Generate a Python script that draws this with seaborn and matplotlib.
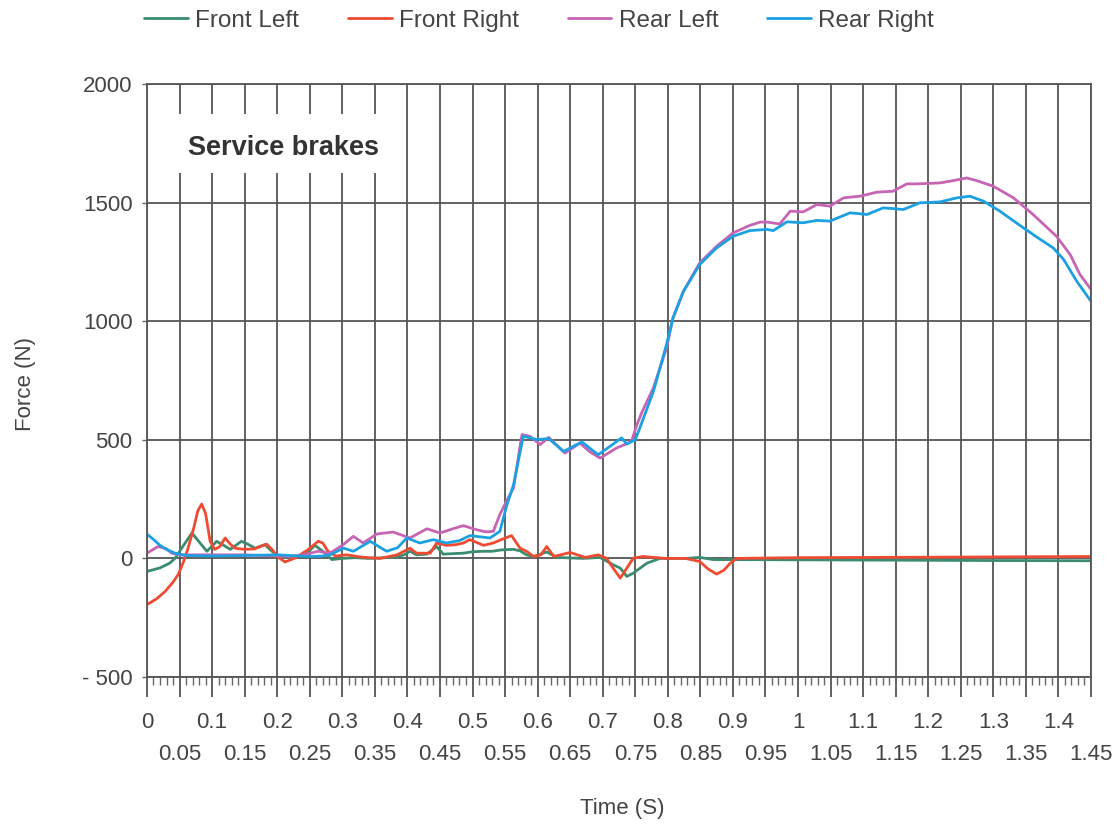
import numpy as np
import pandas as pd
import matplotlib
matplotlib.use("Agg")
import matplotlib.pyplot as plt
from matplotlib.patches import Rectangle
import seaborn as sns

# --- CONFIGURATION ---
OUTPUT_FILE = "out.png"

SERIES_NAMES = ["Front Left", "Front Right", "Rear Left", "Rear Right"]
COLORS = ["#3b8c6e", "#ef4b32", "#c864b4", "#1ba1e2"]

# Front Left
fl_t = [0.0, 0.02, 0.035, 0.043, 0.055, 0.069, 0.08, 0.092, 0.107, 0.118, 0.128, 0.145,
        0.155, 0.166, 0.181, 0.19, 0.2, 0.215, 0.23, 0.245, 0.258, 0.27, 0.284, 0.3,
        0.32, 0.34, 0.36, 0.38, 0.395, 0.404, 0.414, 0.43, 0.445, 0.455, 0.47, 0.486,
        0.5, 0.517, 0.53, 0.545, 0.563, 0.573, 0.583, 0.594, 0.614, 0.63, 0.65, 0.67,
        0.696, 0.716, 0.727, 0.737, 0.747, 0.768, 0.788, 0.81, 0.829, 0.849, 0.87, 0.9,
        1.0, 1.1, 1.2, 1.3, 1.45]
fl_f = [-55, -40, -20, 0, 50, 107, 70, 30, 72, 55, 38, 72,
        60, 43, 58, 35, 10, 5, 5, 20, 55, 30, -5, 0,
        3, 0, 2, 5, 15, 30, 15, 18, 50, 18, 20, 22,
        28, 30, 30, 36, 38, 32, 15, 8, 27, 4, 2, 0,
        4, -27, -41, -76, -62, -20, 0, 0, 0, 4, -5, -5,
        -6, -7, -8, -9, -10]

# Front Right
fr_t = [0.0, 0.015, 0.028, 0.04, 0.048, 0.056, 0.063, 0.072, 0.078, 0.084, 0.09, 0.097,
        0.104, 0.112, 0.12, 0.128, 0.135, 0.15, 0.165, 0.184, 0.193, 0.2, 0.212, 0.227,
        0.238, 0.248, 0.263, 0.27, 0.278, 0.29, 0.307, 0.33, 0.358, 0.384, 0.404, 0.414,
        0.435, 0.445, 0.46, 0.475, 0.486, 0.496, 0.517, 0.532, 0.545, 0.56, 0.573, 0.583,
        0.594, 0.605, 0.614, 0.625, 0.65, 0.673, 0.693, 0.706, 0.716, 0.727, 0.737, 0.747,
        0.762, 0.796, 0.827, 0.849, 0.862, 0.875, 0.886, 0.896, 0.906, 1.0, 1.2, 1.45]
fr_f = [-195, -170, -139, -100, -68, -15, 42, 130, 200, 229, 190, 72,
        38, 50, 86, 60, 43, 38, 40, 60, 35, 8, -15, 1,
        20, 38, 72, 65, 30, 10, 15, 5, 0, 15, 43, 22,
        22, 65, 55, 58, 65, 79, 55, 65, 80, 96, 43, 30,
        8, 15, 50, 8, 25, 4, 15, 0, -41, -83, -41, 1,
        8, 0, 0, -13, -45, -66, -50, -20, 0, 3, 5, 8]

# Rear Left
rl_t = [0.0, 0.017, 0.03, 0.038, 0.05, 0.1, 0.15, 0.2, 0.22, 0.24, 0.263, 0.281,
        0.3, 0.317, 0.332, 0.353, 0.378, 0.404, 0.43, 0.45, 0.47, 0.486, 0.506, 0.52,
        0.532, 0.542, 0.552, 0.563, 0.57, 0.576, 0.588, 0.604, 0.617, 0.642, 0.665, 0.68,
        0.696, 0.721, 0.739, 0.745, 0.752, 0.76, 0.778, 0.798, 0.808, 0.824, 0.849, 0.875,
        0.9, 0.926, 0.942, 0.952, 0.972, 0.988, 1.008, 1.029, 1.049, 1.07, 1.095, 1.121,
        1.146, 1.167, 1.182, 1.218, 1.239, 1.259, 1.274, 1.3, 1.331, 1.361, 1.397, 1.418,
        1.433, 1.45]
rl_f = [22, 50, 40, 22, 15, 15, 15, 10, 8, 15, 30, 22,
        55, 93, 65, 103, 111, 86, 125, 107, 125, 138, 121, 112,
        114, 185, 240, 297, 420, 522, 515, 480, 510, 444, 486, 450,
        423, 465, 486, 500, 560, 615, 720, 887, 1014, 1126, 1246, 1316,
        1372, 1404, 1418, 1418, 1410, 1464, 1461, 1492, 1485, 1520, 1527, 1544,
        1548, 1579, 1579, 1583, 1593, 1604, 1593, 1569, 1520, 1450, 1358, 1281,
        1197, 1134]

# Rear Right
rr_t = [0.0, 0.01, 0.02, 0.03, 0.043, 0.06, 0.1, 0.15, 0.2, 0.25, 0.27, 0.281,
        0.302, 0.317, 0.343, 0.368, 0.385, 0.399, 0.419, 0.44, 0.46, 0.48, 0.496, 0.527,
        0.542, 0.553, 0.563, 0.578, 0.599, 0.617, 0.64, 0.668, 0.693, 0.71, 0.729, 0.737,
        0.75, 0.757, 0.778, 0.798, 0.808, 0.824, 0.849, 0.875, 0.9, 0.926, 0.952, 0.962,
        0.983, 1.008, 1.029, 1.049, 1.08, 1.106, 1.131, 1.162, 1.187, 1.218, 1.244, 1.264,
        1.285, 1.31, 1.346, 1.372, 1.392, 1.408, 1.428, 1.45]
rr_f = [102, 80, 55, 38, 22, 12, 10, 12, 15, 8, 10, 15,
        43, 30, 72, 30, 45, 86, 65, 79, 65, 75, 96, 86,
        114, 227, 310, 515, 501, 505, 451, 491, 437, 470, 508, 482,
        500, 550, 705, 902, 1014, 1126, 1239, 1309, 1358, 1382, 1387, 1382,
        1419, 1415, 1425, 1422, 1457, 1450, 1478, 1471, 1499, 1503, 1520, 1527,
        1506, 1464, 1394, 1345, 1309, 1260, 1169, 1084]

Y_TICKS = [-500, 0, 500, 1000, 1500, 2000]
Y_TICK_LABELS = ["- 500", "0", "500", "1000", "1500", "2000"]


def generate_graph():
    frames = []
    for name, t, f in zip(SERIES_NAMES, [fl_t, fr_t, rl_t, rr_t], [fl_f, fr_f, rl_f, rr_f]):
        frames.append(pd.DataFrame({"Time": t, "Force": f, "Series": name}))
    df = pd.concat(frames, ignore_index=True)

    sns.set_style("white")
    plt.rcParams['font.family'] = ['Liberation Sans', 'DejaVu Sans']

    fig = plt.figure(figsize=(11.16, 8.27), dpi=100)
    ax = fig.add_axes([0.1317, 0.1814, 0.8459, 0.717])

    sns.lineplot(data=df, x="Time", y="Force", hue="Series", hue_order=SERIES_NAMES,
                 palette=COLORS, estimator=None, sort=True, linewidth=2.0, ax=ax)

    handles, labels = ax.get_legend_handles_labels()
    ax.get_legend().remove()
    fig.legend(handles, labels, loc="center", bbox_to_anchor=(0.483, 0.975), ncol=4,
               frameon=False, fontsize=17.5, handlelength=1.8, handletextpad=0.3,
               columnspacing=2.0, labelcolor="#444444")

    ax.set_xlim(0, 1.45)
    ax.set_ylim(-500, 2000)

    # Major ticks every 0.05; labels on two rows (second row via a secondary axis)
    major = np.round(np.arange(30) * 0.05, 2)
    even = major[0::2]
    odd = major[1::2]
    ax.set_xticks(major)
    ax.set_xticklabels([f"{v:g}" if i % 2 == 0 else "" for i, v in enumerate(major)])
    ax.set_xticks(np.round(np.arange(146) * 0.01, 2), minor=True)

    sec = ax.secondary_xaxis("bottom")
    sec.set_xticks(odd)
    sec.set_xticklabels([f"{v:g}" for v in odd])
    sec.tick_params(axis="x", length=0, pad=48, labelsize=16, labelcolor="#444444")
    sec.spines["bottom"].set_visible(False)

    ax.set_yticks(Y_TICKS)
    ax.set_yticklabels(Y_TICK_LABELS)

    ax.tick_params(axis="x", which="major", bottom=True, direction="out", length=14.5,
                   width=1.3, color="#555555", pad=11, labelsize=16, labelcolor="#444444")
    ax.tick_params(axis="x", which="minor", bottom=True, direction="out", length=5.5,
                   width=1.0, color="#666666")
    ax.tick_params(axis="y", left=True, direction="out", length=3.5, width=1.0,
                   color="#666666", pad=7, labelsize=16, labelcolor="#444444")

    ax.set_axisbelow(True)
    ax.grid(True, which="major", color="#555555", linewidth=1.3)
    for sp in ax.spines.values():
        sp.set_visible(True)
        sp.set_color("#555555")
        sp.set_linewidth(1.3)

    ax.set_xlabel("Time (S)", fontsize=16, color="#444444")
    ax.set_ylabel("Force (N)", fontsize=16, color="#444444")
    ax.xaxis.set_label_coords(0.503, -0.204)
    ax.yaxis.set_label_coords(-0.118, 0.494)

    # White box behind the annotation
    ax.add_patch(Rectangle((0.005, 1625), 0.37, 248, facecolor="white", edgecolor="none",
                           zorder=1))
    ax.text(0.209, 1730, "Service brakes", fontsize=19.5, fontweight="bold",
            color="#333333", ha="center", va="center", zorder=3)

    fig.savefig(OUTPUT_FILE, dpi=100)
    print(f"Graph saved to {OUTPUT_FILE}")


if __name__ == "__main__":
    generate_graph()
